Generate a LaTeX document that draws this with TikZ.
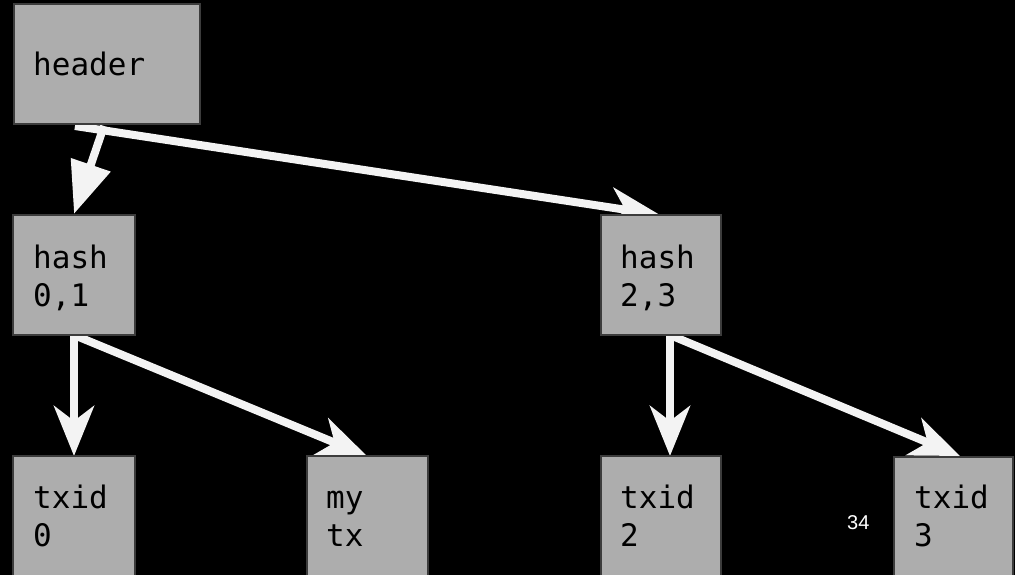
\documentclass[tikz,border=0pt]{standalone}
\usepackage{fontspec}
\setmonofont{DejaVu Sans Mono}
\newfontfamily\numfont{Liberation Sans}
\usetikzlibrary{arrows.meta,calc}
\definecolor{boxfill}{HTML}{ADADAD}
\definecolor{boxline}{HTML}{3C3C3C}
\definecolor{arrowc}{HTML}{F3F3F3}
\pgfdeclarelayer{back}
\pgfdeclarelayer{links}
\pgfsetlayers{back,links,main}
\begin{document}
\begin{tikzpicture}[x=1pt,y=-1pt,
  box/.style={draw=boxline, line width=1.6pt, fill=boxfill, inner sep=0pt, outer sep=0pt, anchor=north west},
  txt/.style={font=\ttfamily\fontsize{31}{38}\selectfont, text=black, inner sep=0pt, anchor=base west},
  link/.style={draw=arrowc, line width=8pt, -{Stealth[length=50pt,width=40pt,inset=15pt]}},
  bigtri/.style={draw=arrowc, line width=8pt, -{Triangle[length=52pt,width=40pt]}}
]
\path[use as bounding box, clip] (0,0) rectangle (1015,575);
\begin{pgfonlayer}{back}
\fill[black] (0,0) rectangle (1015,575);
\end{pgfonlayer}

% boxes
\node[box, minimum width=186pt, minimum height=120pt] (header) at (14,4) {};
\node[box, minimum width=122pt, minimum height=120pt] (h01) at (13,215) {};
\node[box, minimum width=120pt, minimum height=120pt] (h23) at (601,215) {};
\node[box, minimum width=122pt, minimum height=130pt] (t0) at (13,456) {};
\node[box, minimum width=121pt, minimum height=130pt] (mytx) at (307,456) {};
\node[box, minimum width=120pt, minimum height=130pt] (t2) at (601,456) {};
\node[box, minimum width=119pt, minimum height=130pt] (t3) at (894,457) {};

% texts
\node[txt] (header-a) at (33,76) {header};
\node[txt] (h01-a) at (33,268) {hash};
\node[txt] (h01-b) at (33,306) {0,1};
\node[txt] (h23-a) at (620,268) {hash};
\node[txt] (h23-b) at (620,306) {2,3};
\node[txt] (t0-a) at (33,508) {txid};
\node[txt] (t0-b) at (33,546) {0};
\node[txt] (mytx-a) at (326,508) {my};
\node[txt] (mytx-b) at (326,546) {tx};
\node[txt] (t2-a) at (620,508) {txid};
\node[txt] (t2-b) at (620,546) {2};
\node[txt] (t3-a) at (914,508) {txid};
\node[txt] (t3-b) at (914,546) {3};
\node[font=\numfont\fontsize{20}{24}\selectfont, text=white, inner sep=0pt, anchor=base west] (pagenum) at (847,529) {34};

% connectors
\begin{pgfonlayer}{links}
\draw[link] ($(header.south west)+(61,2)$) -- ($(h23.north west)+(59,0)$);
\draw[bigtri] ($(header.south west)+(90,2)$) -- ($(h01.north west)+(61,-1)$);
\draw[link] (h01.south) -- (t0.north);
\draw[link] (h01.south) -- ($(mytx.north west)+(60,0)$);
\draw[link] ($(h23.south)+(9,0)$) -- ($(t2.north)+(9,0)$);
\draw[link] ($(h23.south)+(9,0)$) -- ($(t3.north west)+(66,-1)$);
\end{pgfonlayer}
\end{tikzpicture}
\end{document}
